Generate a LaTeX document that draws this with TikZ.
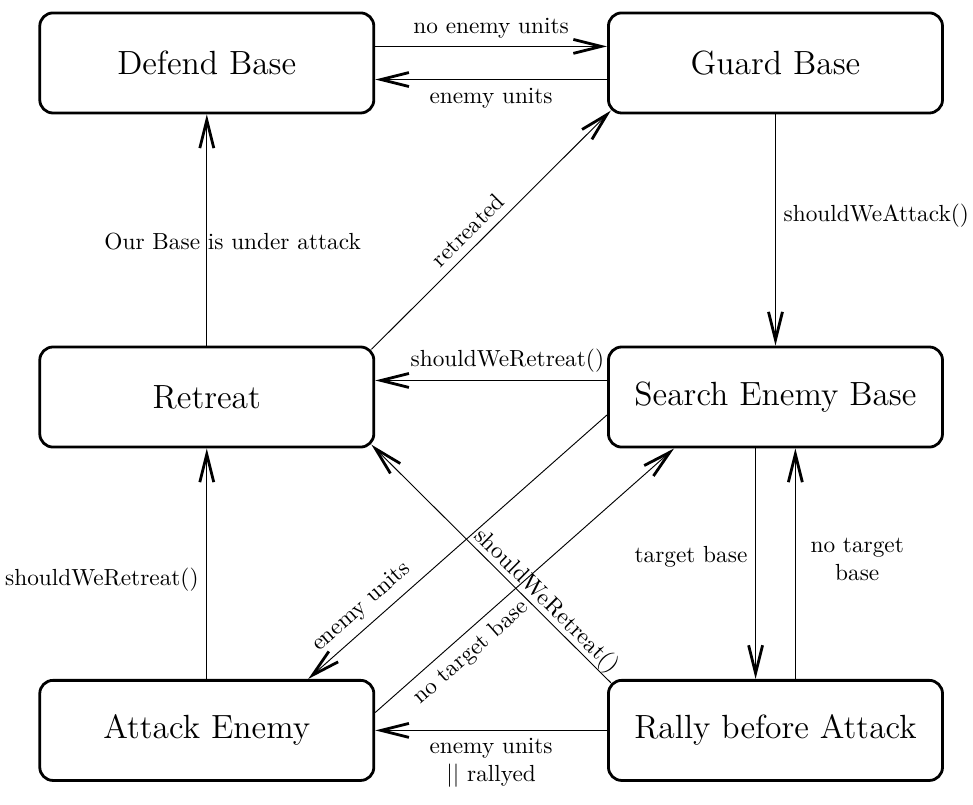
\documentclass[tikz,border=0pt]{standalone}
\usetikzlibrary{arrows.meta}
\tikzset{
	state/.style={draw, line width=1.2pt, rounded corners=0.2cm, minimum width=5.04cm, minimum height=1.51cm, font=\Large},
	trans/.style={-{Straight Barb[length=12pt, width=6pt, line width=1.2pt]}, line width=0.4pt}
}
\begin{document}
\begin{tikzpicture}
			%%%%% START %%%%%
			
			\useasboundingbox (0, 0) rectangle (14.68, 12.14);
			
			\node[state] (defend) at (3.12, 11.19) {Defend Base};
			\node[state] (guard) at (11.70, 11.19) {Guard Base};
			\node[state] (retreat) at (3.12, 6.15) {Retreat};
			\node[state] (search) at (11.70, 6.15) {Search Enemy Base};
			\node[state] (attack) at (3.12, 1.12) {Attack Enemy};
			\node[state] (rally) at (11.70, 1.12) {Rally before Attack};
			
			\draw[trans] ([yshift=0.25cm]defend.east) -- node[above] {no enemy units} ([yshift=0.25cm]guard.west);
			\draw[trans] ([yshift=-0.25cm]guard.west) -- node[below] {enemy units} ([yshift=-0.25cm]defend.east);
			\draw[trans] (guard) -- node[pos=0.44, right] {shouldWeAttack()} (search);
			
			\draw[trans] ([yshift=0.25cm]search.west) -- node[pos=0.43, above] {shouldWeRetreat()} ([yshift=0.25cm]retreat.east);
			\draw[trans] (retreat) -- node[pos=0.45, xshift=0.39cm] {Our Base is under attack} (defend);
			\draw[trans, shorten <=-2.3pt, shorten >=-2.3pt] (retreat.north east) -- node[pos=0.45, above, sloped] {retreated} (guard.south west);
			
			\draw[trans] ([yshift=-0.27cm]search.west) -- node[pos=0.78, above, sloped] {enemy units} ([xshift=1.53cm]attack.north);
			\draw[trans] ([yshift=0.27cm]attack.east) -- node[pos=0.28, below, sloped] {no target base} ([xshift=-1.53cm]search.south);
			\draw[trans, shorten <=-2.3pt, shorten >=-2.3pt] (rally.north west) -- node[pos=0.3, above, sloped, inner sep=0pt] {shouldWeRetreat()} (retreat.south east);
			
			\draw[trans] ([xshift=-0.3cm]search.south) -- node[pos=0.47, left] {target base} ([xshift=-0.3cm]rally.north);
			\draw[trans] ([xshift=0.3cm]rally.north) -- node[pos=0.52, right, xshift=3pt, align=center] {no target\\base} ([xshift=0.3cm]search.south);
			
			\draw[trans] (attack) -- node[pos=0.43, left] {shouldWeRetreat()} (retreat);
			\draw[trans] (rally) -- node[below, align=center] {enemy units\\|| rallyed} (attack);
			
			%%%%% END %%%%%
\end{tikzpicture}
\end{document}
